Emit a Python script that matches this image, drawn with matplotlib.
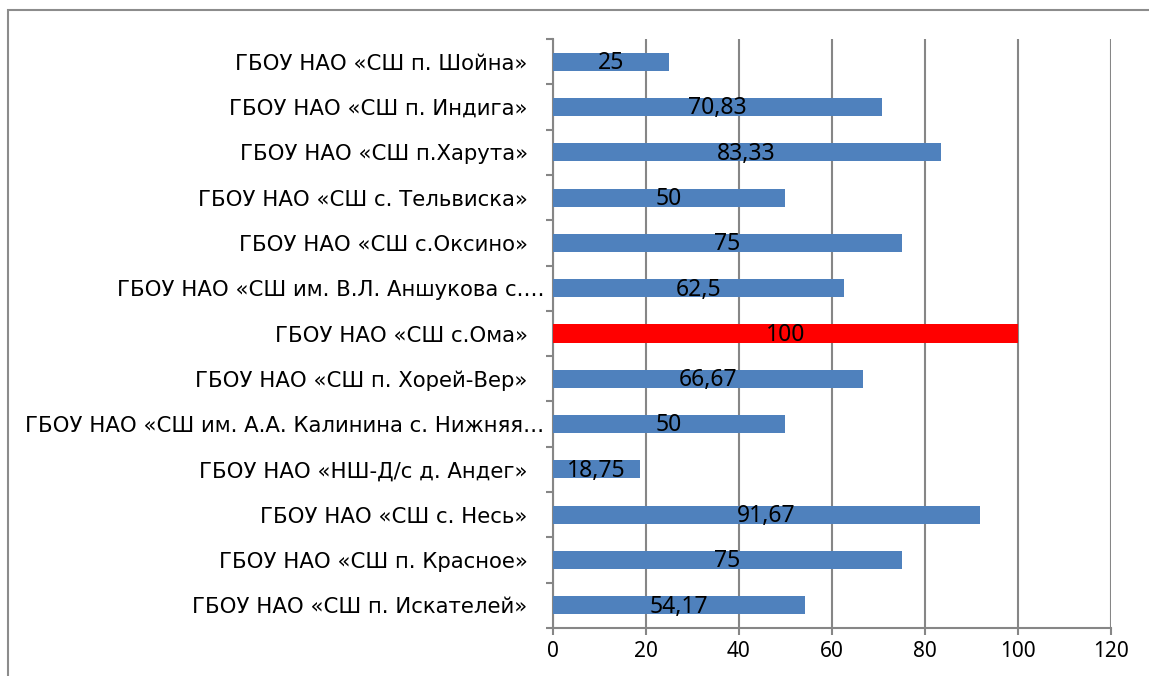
import matplotlib
matplotlib.use('Agg')
import matplotlib.pyplot as plt
import matplotlib.transforms as mtransforms
from matplotlib.patches import Rectangle

# categories listed bottom -> top (as in the chart)
schools = [
    'ГБОУ НАО «СШ п. Искателей»',
    'ГБОУ НАО «СШ п. Красное»',
    'ГБОУ НАО «СШ с. Несь»',
    'ГБОУ НАО «НШ-Д/с д. Андег»',
    'ГБОУ НАО «СШ им. А.А. Калинина с. Нижняя…',
    'ГБОУ НАО «СШ п. Хорей-Вер»',
    'ГБОУ НАО «СШ с.Ома»',
    'ГБОУ НАО «СШ им. В.Л. Аншукова с.…',
    'ГБОУ НАО «СШ с.Оксино»',
    'ГБОУ НАО «СШ с. Тельвиска»',
    'ГБОУ НАО «СШ п.Харута»',
    'ГБОУ НАО «СШ п. Индига»',
    'ГБОУ НАО «СШ п. Шойна»',
]
values = [54.17, 75, 91.67, 18.75, 50, 66.67, 100, 62.5, 75, 50, 83.33, 70.83, 25]
highlight = 'ГБОУ НАО «СШ с.Ома»'
xticks = [0, 20, 40, 60, 80, 100, 120]

plt.rcParams['font.family'] = ['Noto Sans', 'DejaVu Sans']

fig = plt.figure(figsize=(11.49, 6.76), dpi=100)
ax = fig.add_axes([0.481, 0.071, 0.4863, 0.8713])

colors = ['#ff0000' if s == highlight else '#4f81bd' for s in schools]
y = list(range(len(schools)))
ax.barh(y, values, height=0.4, color=colors, zorder=3)

for yi, v in zip(y, values):
    txt = f'{v:g}'.replace('.', ',')
    ax.text(v / 2, yi - 0.03, txt, ha='center', va='center', fontsize=16.5, color='black', zorder=4)

ax.set_xlim(0, 120)
ax.set_ylim(-0.5, len(schools) - 0.5)
ax.set_xticks(xticks)
ax.set_xticklabels([str(t) for t in xticks], fontsize=15)
ax.set_yticks([i - 0.5 for i in range(len(schools) + 1)], minor=False)
ax.set_yticklabels([])
ax.set_yticks(y, minor=True)
ax.set_yticklabels(schools, minor=True, fontsize=15.3, family=['DejaVu Sans'])
ax.tick_params(axis='y', which='minor', length=0, pad=18)
ax.tick_params(axis='y', which='major', length=5, width=1.5, color='#868686')
ax.tick_params(axis='x', length=5, width=1.5, color='#868686', pad=4)

# truncated labels sit closer to the axis in the original
shift = mtransforms.ScaledTranslation(17 / 100, 0, fig.dpi_scale_trans)
for lbl in ax.get_yticklabels(minor=True):
    if lbl.get_text().endswith('…'):
        lbl.set_transform(lbl.get_transform() + shift)

ax.grid(axis='x', color='#868686', linewidth=1.5, zorder=0)
for side in ['top', 'right']:
    ax.spines[side].set_visible(False)
for side in ['left', 'bottom']:
    ax.spines[side].set_color('#868686')
    ax.spines[side].set_linewidth(1.5)

# outer chart frame (cut off at right and bottom)
fig.patches.append(Rectangle((8 / 1149, -0.1), 1.2, 1 - 10 / 676 + 0.1,
                             transform=fig.transFigure, fill=False,
                             edgecolor='#8c8c8c', linewidth=1.5))

fig.savefig('out.png', dpi=100)
